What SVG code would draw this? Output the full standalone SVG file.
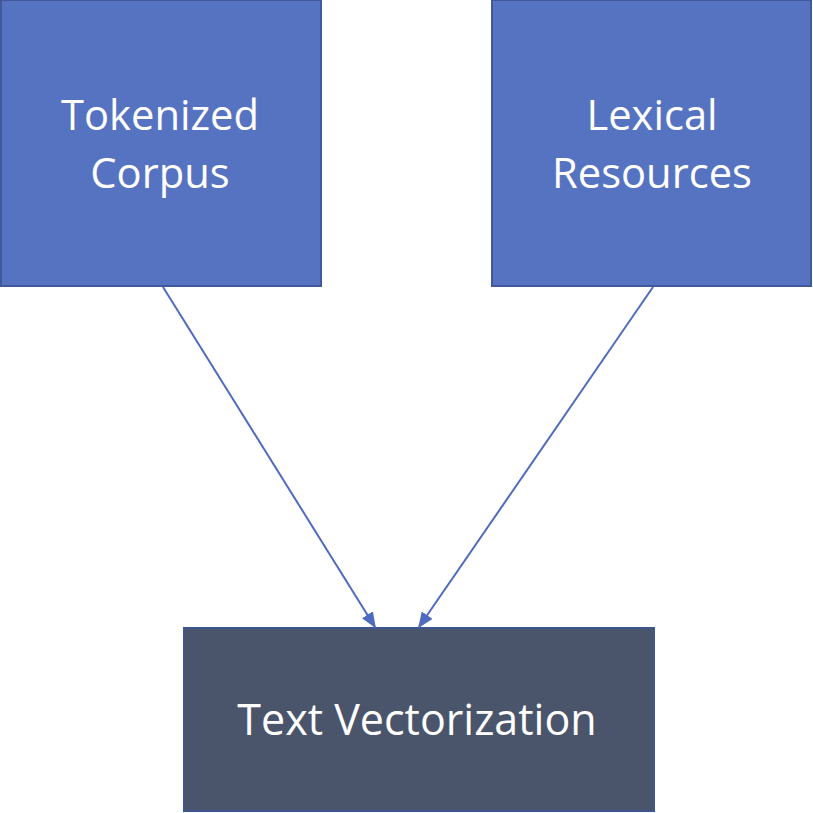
<svg xmlns="http://www.w3.org/2000/svg" width="813" height="813" viewBox="0 0 813 813">
<style>
.src{fill:#5673C1;stroke:#41589A;stroke-width:2}
.dst{fill:#4A556B;stroke:#3E5592;stroke-width:2}
.lbl{font-family:"Open Sans","Liberation Sans",sans-serif;font-size:41.7px;fill:#FFFFFF;text-anchor:middle}
.big{font-size:43px}
.conn{stroke:#4F6BBF;stroke-width:2;fill:none;marker-end:url(#ah)}
</style>
<defs>
<marker id="ah" viewBox="0 0 10 10" refX="9" refY="5" markerWidth="16" markerHeight="13" markerUnits="userSpaceOnUse" orient="auto" preserveAspectRatio="none">
<path d="M0,0 L10,5 L0,10 z" fill="#4F6BBF"/>
</marker>
</defs>
<rect width="813" height="813" fill="#FFFFFF"/>
<g id="tokenized-corpus">
<rect class="src" x="1" y="0" width="320" height="286"/>
<text class="lbl" x="160" y="130">Tokenized</text>
<text class="lbl" x="160" y="188">Corpus</text>
</g>
<g id="lexical-resources">
<rect class="src" x="492" y="0" width="319" height="286"/>
<text class="lbl" x="652" y="130">Lexical</text>
<text class="lbl" x="652" y="188">Resources</text>
</g>
<g id="text-vectorization">
<rect class="dst" x="184" y="628" width="470" height="183"/>
<text class="lbl big" x="417" y="735">Text Vectorization</text>
</g>
<g id="connectors">
<line class="conn" x1="163" y1="287" x2="375" y2="627"/>
<line class="conn" x1="653" y1="287" x2="419" y2="627"/>
</g>
</svg>
